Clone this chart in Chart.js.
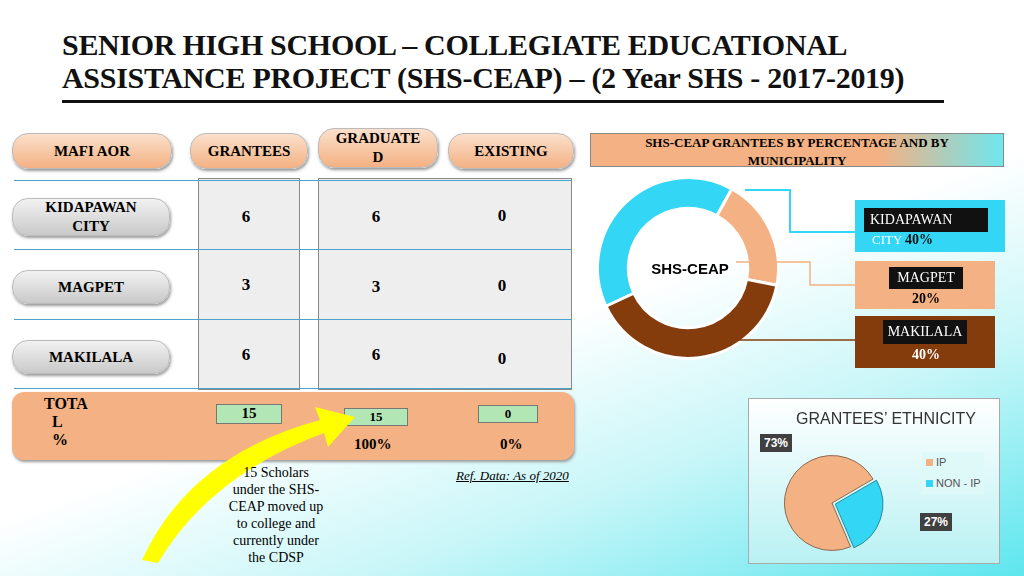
<!DOCTYPE html>
<html><head><meta charset="utf-8">
<script src="https://cdn.jsdelivr.net/npm/chart.js@4"></script>
<style>
body{margin:0;width:1024px;height:576px;overflow:hidden;font-family:"Liberation Serif",serif;position:relative;
 background:linear-gradient(160deg,#fff 0%,#fff 55%,#c8f6f8 75%,#5ee6ee 100%);}
.a{position:absolute;box-sizing:border-box;}
.t{left:62px;top:28px;font-size:30px;font-weight:bold;line-height:33px;color:#111;letter-spacing:-0.3px;}
.pill{background:linear-gradient(#f2f2f2,#c9c9c9);border-radius:16px;border:1px solid #bbb;font-weight:bold;font-size:15px;
 text-align:center;display:flex;align-items:center;justify-content:center;line-height:19px;box-shadow:1px 2px 3px #999;}
.hd{background:linear-gradient(#fbe0cc,#f4b183);}
.num{font-size:17px;font-weight:bold;text-align:center;width:40px}
.ln{height:1px;background:#4aa3c8;left:14px;width:558px}
.gbox{background:#b3e6b5;border:1px solid #777;font-weight:bold;font-size:15px;text-align:center}
.lab{font-size:14px;color:#fff;background:#111;text-align:center}
</style></head><body>
<div class="a t">SENIOR HIGH SCHOOL – COLLEGIATE EDUCATIONAL<br>ASSISTANCE PROJECT (SHS-CEAP) – (2 Year SHS - 2017-2019)</div>
<div class="a" style="left:62px;top:100px;width:882px;height:3px;background:#111"></div>

<div class="a pill hd" style="left:12px;top:133px;width:160px;height:36px">MAFI AOR</div>
<div class="a pill hd" style="left:190px;top:133px;width:118px;height:36px">GRANTEES</div>
<div class="a pill hd" style="left:318px;top:128px;width:120px;height:40px">GRADUATE<br>D</div>
<div class="a pill hd" style="left:448px;top:133px;width:126px;height:36px">EXISTING</div>

<div class="a" style="left:198px;top:178px;width:102px;height:212px;background:#eee;border:1px solid #888"></div>
<div class="a" style="left:318px;top:178px;width:254px;height:212px;background:#eee;border:1px solid #888"></div>
<div class="a ln" style="top:180px"></div><div class="a ln" style="top:249px"></div>
<div class="a ln" style="top:319px"></div><div class="a ln" style="top:388px"></div>

<div class="a pill" style="left:12px;top:198px;width:158px;height:38px">KIDAPAWAN<br>CITY</div>
<div class="a pill" style="left:12px;top:270px;width:158px;height:34px">MAGPET</div>
<div class="a pill" style="left:12px;top:340px;width:158px;height:34px">MAKILALA</div>
<div class="a num" style="left:226px;top:207px">6</div><div class="a num" style="left:356px;top:207px">6</div><div class="a num" style="left:482px;top:206px">0</div>
<div class="a num" style="left:226px;top:275px">3</div><div class="a num" style="left:356px;top:277px">3</div><div class="a num" style="left:482px;top:276px">0</div>
<div class="a num" style="left:226px;top:345px">6</div><div class="a num" style="left:356px;top:345px">6</div><div class="a num" style="left:482px;top:349px">0</div>

<div class="a" style="left:12px;top:392px;width:562px;height:68px;background:#f4b183;border-radius:12px;box-shadow:1px 2px 3px #999"></div>
<div class="a" style="left:44px;top:395px;font-weight:bold;font-size:16px;line-height:18px">TOTA<br>&nbsp;&nbsp;L<br>&nbsp;&nbsp;%</div>
<div class="a gbox" style="left:216px;top:404px;width:66px;height:20px">15</div>
<div class="a gbox" style="left:344px;top:408px;width:64px;height:18px;font-size:13px">15</div>
<div class="a gbox" style="left:478px;top:405px;width:60px;height:18px;font-size:13px">0</div>
<div class="a" style="left:354px;top:436px;font-weight:bold;font-size:15px">100%</div>
<div class="a" style="left:500px;top:436px;font-weight:bold;font-size:15px">0%</div>
<svg class="a" style="left:130px;top:395px" width="230" height="170"><path d="M12 165 Q60 60 190 25 L185 12 L225 22 L198 52 L194 38 Q80 80 28 168 Z" fill="#ffff00"/></svg>
<div class="a" style="left:226px;top:464px;width:100px;text-align:center;font-size:14px;line-height:17px">15 Scholars under the SHS-CEAP moved up to college and currently under the CDSP</div>
<div class="a" style="left:456px;top:468px;font-size:13px;font-style:italic;text-decoration:underline">Ref. Data: As of 2020</div>

<div class="a" style="left:590px;top:133px;width:414px;height:34px;background:linear-gradient(90deg,#f4b183 70%,#6fe6ee);border:1px solid #888;font-weight:bold;font-size:13px;text-align:center;line-height:18px">SHS-CEAP GRANTEES BY PERCENTAGE AND BY<br>MUNICIPALITY</div>
<div class="a" style="left:590px;top:170px;width:196px;height:196px"><canvas id="donut"></canvas></div>
<div class="a" style="left:643px;top:260px;width:94px;text-align:center;font-family:'Liberation Sans';font-weight:bold;font-size:15px">SHS-CEAP</div>
<svg class="a" style="left:0;top:0" width="1024" height="576">
<polyline points="745,190 790,190 790,232 855,232" stroke="#33d6f5" stroke-width="2" fill="none"/>
<polyline points="736,262 810,262 810,285 855,285" stroke="#f4b183" stroke-width="1.5" fill="none"/>
<polyline points="690,345 690,340 855,340" stroke="#843c0c" stroke-width="1.5" fill="none"/></svg>
<div class="a" style="left:855px;top:200px;width:150px;height:52px;background:#33d6f5"></div>
<div class="a lab" style="left:864px;top:208px;width:124px;height:24px;line-height:24px;text-align:left;padding-left:6px">KIDAPAWAN</div>
<div class="a" style="left:872px;top:232px;font-size:13px;color:#fff">CITY <b style="color:#111;font-size:14px">40%</b></div>
<div class="a" style="left:855px;top:261px;width:140px;height:48px;background:#f4b183"></div>
<div class="a lab" style="left:889px;top:267px;width:74px;height:22px;line-height:22px">MAGPET</div>
<div class="a" style="left:912px;top:291px;font-weight:bold;font-size:14px">20%</div>
<div class="a" style="left:855px;top:316px;width:140px;height:52px;background:#843c0c"></div>
<div class="a lab" style="left:883px;top:320px;width:84px;height:24px;line-height:24px">MAKILALA</div>
<div class="a" style="left:912px;top:347px;font-weight:bold;font-size:14px;color:#fff">40%</div>

<div class="a" style="left:748px;top:398px;width:252px;height:166px;background:linear-gradient(#fff,#b9f1f3);border:1px solid #aaa"></div>
<div class="a" style="left:796px;top:410px;font-family:'Liberation Sans';font-size:16px;color:#333">GRANTEES’ ETHNICITY</div>
<div class="a" style="left:752px;top:418px;width:160px;height:150px"><canvas id="pie"></canvas></div>
<div class="a" style="left:760px;top:434px;background:#404040;color:#fff;font-family:'Liberation Sans';font-weight:bold;font-size:12px;padding:2px 4px">73%</div>
<div class="a" style="left:920px;top:513px;background:#404040;color:#fff;font-family:'Liberation Sans';font-weight:bold;font-size:12px;padding:2px 4px">27%</div>
<div class="a" style="left:922px;top:452px;width:62px;height:42px;background:#dff8f8;font-family:'Liberation Sans';font-size:11px;color:#555;line-height:21px;padding-left:4px;white-space:nowrap">
<span style="display:inline-block;width:7px;height:7px;background:#f4b183"></span> IP<br><span style="display:inline-block;width:7px;height:7px;background:#33d6f5"></span> NON - IP</div>

<script>
const municipalities = ['KIDAPAWAN CITY', 'MAGPET', 'MAKILALA'];
const municipalityPct = [40, 20, 40];
const ethnicity = ['IP', 'NON - IP'];
const ethnicityPct = [73, 27];

new Chart(document.getElementById('donut'), {
    type: 'doughnut',
    data: { labels: municipalities, datasets: [{ data: municipalityPct,
        backgroundColor: ['#33d6f5', '#f4b183', '#843c0c'], borderColor: '#fff', borderWidth: 3 }] },
    options: { responsive: true, maintainAspectRatio: false, animation: false, cutout: '66%', rotation: -115,
        layout: { padding: 6 }, plugins: { legend: { display: false }, tooltip: { enabled: false } } }
});

new Chart(document.getElementById('pie'), {
    type: 'pie',
    data: { labels: ethnicity, datasets: [{ data: ethnicityPct,
        backgroundColor: ['#f4b183', '#33d6f5'], borderColor: ['#8a6a50', '#2a8a99'], borderWidth: 1, offset: [0, 14] }] },
    options: { responsive: true, maintainAspectRatio: false, animation: false, rotation: 157,
        layout: { padding: { top: 30, bottom: 10, left: 10, right: 10 } },
        plugins: { legend: { display: false }, tooltip: { enabled: false } } }
});
</script>
</body></html>
